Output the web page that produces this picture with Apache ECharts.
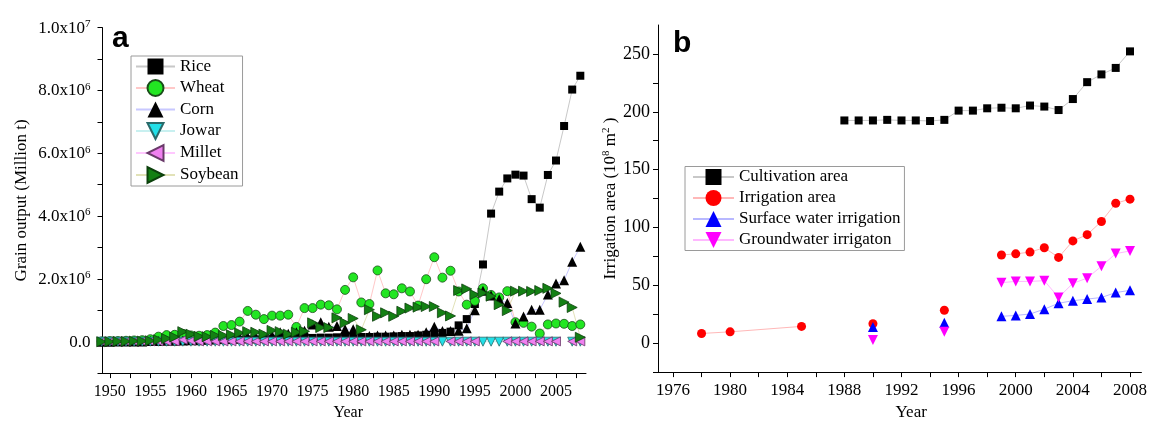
<!DOCTYPE html>
<html><head><meta charset="utf-8">
<script src="https://cdn.jsdelivr.net/npm/echarts@6/dist/echarts.min.js"></script>
<style>html,body{margin:0;padding:0;background:#fff}#c{width:1150px;height:426px}</style>
</head><body><div id="c"></div>
<script>
// ---------- Panel a data (values in 10^6 t) ----------
const grainYears = [1949,1950,1951,1952,1953,1954,1955,1956,1957,1958,
  1959,1960,1961,1962,1963,1964,1965,1966,1967,1968,
  1969,1970,1971,1972,1973,1974,1975,1976,1977,1978,
  1979,1980,1981,1982,1983,1984,1985,1986,1987,1988,
  1989,1990,1991,1992,1993,1994,1995,1996,1997,1998,
  1999,2000,2001,2002,2003,2004,2005,2006,2007,2008];
const rice = [0.01,0.01,0.01,0.01,0.01,0.01,0.02,0.02,0.02,0.02,
  0.03,0.03,0.03,0.04,0.04,0.05,0.05,0.06,0.07,0.07,
  0.08,0.08,0.09,0.10,0.10,0.12,0.12,0.13,0.13,0.14,
  0.14,0.15,0.15,0.15,0.16,0.16,0.17,0.18,0.18,0.20,
  0.22,0.25,0.28,0.32,0.52,0.72,1.20,2.46,4.08,4.78,
  5.20,5.32,5.29,4.54,4.27,5.31,5.77,6.87,8.03,8.47];
const wheat = [0.01,0.02,0.02,0.03,0.04,0.05,0.08,0.16,0.21,0.22,
  0.25,0.20,0.19,0.21,0.29,0.50,0.53,0.64,0.98,0.86,
  0.72,0.83,0.83,0.86,0.47,1.07,1.07,1.18,1.16,1.03,
  1.65,2.05,1.25,1.20,2.27,1.54,1.51,1.70,1.60,1.15,
  1.99,2.69,2.04,2.26,1.60,1.18,1.30,1.70,1.49,1.41,
  1.61,0.62,0.60,0.48,0.26,0.55,0.58,0.57,0.50,0.55];
const corn = [0.00,0.00,0.01,0.01,0.01,0.01,0.02,0.02,0.03,0.03,
  0.04,0.05,0.05,0.06,0.08,0.10,0.12,0.14,0.15,0.15,
  0.18,0.20,0.30,0.25,0.30,0.35,0.55,0.62,0.48,0.50,
  0.40,0.40,0.10,0.18,0.20,0.20,0.20,0.22,0.22,0.22,
  0.30,0.48,0.34,0.34,0.35,0.43,1.00,1.62,1.47,1.35,
  1.23,0.58,0.80,1.02,1.02,1.50,1.85,1.96,2.55,3.02];
const jowar = [0,0,0,0,0,0,0,0,0,0,
  0,0,0,0,0,0,0,0,0,0,
  0,0,0,0,0,0,0,0,0,0,
  0,0,0,0,0,0,0,0,0,0,
  0,0,0,0,0,0,0,0,0,0,
  0,0,0,0,0,0,0,null,0,0];
const millet = [0.01,0.01,0.01,0.01,0.01,0.01,0.01,0.01,0.01,0.01,
  0.06,0.03,0.01,0.01,0.01,0.01,0.01,0.01,0.01,0.01,
  0.01,0.01,0.01,0.01,0.01,0.01,0.01,0.01,0.01,0.01,
  0.01,0.01,0.01,0.01,0.01,0.01,0.01,0.01,0.01,0.01,
  0.01,0.01,null,0.01,0.01,0.01,0.01,null,null,null,
  0.01,0.01,0.01,0.01,0.01,0.01,0.01,null,0.01,0.01];
const soybean = [0.00,0.00,0.01,0.01,0.02,0.02,0.03,0.06,0.10,0.15,
  0.32,0.24,0.17,0.16,0.20,0.20,0.22,0.28,0.32,0.30,
  0.24,0.36,0.32,0.24,0.30,0.33,0.60,0.45,0.45,0.76,
  0.60,0.74,0.38,1.02,0.81,0.92,0.81,0.97,1.07,1.10,
  1.12,1.12,0.92,0.82,1.63,1.68,1.50,1.55,1.45,1.18,
  0.99,1.61,1.61,1.60,1.63,1.70,1.54,1.26,1.09,0.14];

// ---------- Panel b data (10^8 m^2); null = line break ----------
const cultYears = [1988,1989,1990,1991,1992,1993,1994,1995,1996,1997,1998,1999,2000,2001,2002,2003,2004,2005,2006,2007,2008];
const cultArea = [192.5,192.5,192.5,193,192.5,192.5,192,193,201,201,203,203.5,203,205.4,204.5,201.5,211,225.6,232.3,237.9,252.2];
const irrYears = [1978,1980,1985,1987,1990,1992,1995,1997,1999,2000,2001,2002,2003,2004,2005,2006,2007,2008];
const irrArea = [8.4,9.8,14.5,null,16.8,null,28.5,null,76.2,77.2,78.7,82.5,74.1,88.4,93.8,105.2,120.9,124.5];
const subYears = [1990,1992,1995,1997,1999,2000,2001,2002,2003,2004,2005,2006,2007,2008];
const surfArea = [14,null,17.6,null,23.2,24,25.2,29.4,34.5,36.7,38.1,39.5,43.7,45.7];
const gwArea = [2.8,null,9.8,null,52.3,53.4,53.4,54,39.5,51.7,56.2,66.5,77.4,79.7];

// ---------- tick labels / tick positions ----------
const aLabelX = [1950,1955,1960,1965,1970,1975,1980,1985,1990,1995,2000,2005];
const aTickX = [1950,1952.5,1955,1957.5,1960,1962.5,1965,1967.5,1970,1972.5,1975,1977.5,1980,1982.5,1985,1987.5,1990,1992.5,1995,1997.5,2000,2002.5,2005,2007.5];
const aLabelY = [0,2,4,6,8,10];
const aTickY = [-1,0,1,2,3,4,5,6,7,8,9,10];
const bLabelX = [1976,1980,1984,1988,1992,1996,2000,2004,2008];
const bTickX = [1976,1978,1980,1982,1984,1986,1988,1990,1992,1994,1996,1998,2000,2002,2004,2006,2008];
const bLabelY = [0,50,100,150,200,250];
const bTickY = [-25,0,25,50,75,100,125,150,175,200,225,250];

const SERIF = 'Liberation Serif';
const DOWN = 'path://M0,0L10,0L5,9Z';
const LEFT = 'path://M10,0L10,10L0,5Z';
const RIGHT = 'path://M0,0L0,10L10,5Z';

function pairs(xs, ys) { return xs.map((x, i) => [x, ys[i]]); }
function ser(name, xs, ys, idx, symbol, size, fill, line, border) {
  return {
    name, type: 'line', xAxisIndex: idx, yAxisIndex: idx,
    data: pairs(xs, ys), symbol, symbolSize: size, showSymbol: true, showAllSymbol: true,
    clip: false, connectNulls: false,
    lineStyle: { width: 1, color: line },
    itemStyle: { color: fill, borderColor: border || fill, borderWidth: border ? 0.8 : 0, opacity: 1 },
    emphasis: { disabled: true }, animation: false
  };
}

const aMin = 1949.1, aMax = 2008.7, bMin = 1974.95, bMax = 2008.8;
const axisLineBlack = { show: true, onZero: false, lineStyle: { color: '#000', width: 1 } };
const tickStyle = { color: '#000', width: 1 };
const supRich = {
  b: { fontFamily: SERIF, fontSize: 17, lineHeight: 18, verticalAlign: 'bottom', color: '#000' },
  s: { fontFamily: SERIF, fontSize: 11, lineHeight: 10, verticalAlign: 'top', color: '#000' }
};

const option = {
  animation: false,
  backgroundColor: '#fff',
  grid: [
    { left: 102.5, top: 27.7, width: 483.5, height: 352.3 },
    { left: 658, top: 25, width: 485, height: 355 }
  ],
  xAxis: [
    { gridIndex: 0, type: 'value', min: aMin, max: aMax, position: 'bottom',
      axisLine: axisLineBlack,
      axisTick: { customValues: aTickX, length: 5, lineStyle: tickStyle },
      axisLabel: { customValues: aLabelX, color: '#000', fontFamily: SERIF, fontSize: 16, margin: 11, formatter: v => String(v) },
      splitLine: { show: false },
      name: 'Year', nameLocation: 'middle', nameGap: 30,
      nameTextStyle: { color: '#000', fontFamily: SERIF, fontSize: 16, padding: [0, 0, 0, 8] } },
    { gridIndex: 1, type: 'value', min: bMin, max: bMax, position: 'bottom',
      axisLine: axisLineBlack,
      axisTick: { customValues: bTickX, length: 5, lineStyle: tickStyle },
      axisLabel: { customValues: bLabelX, color: '#000', fontFamily: SERIF, fontSize: 17, margin: 10, formatter: v => String(v) },
      splitLine: { show: false },
      name: 'Year', nameLocation: 'middle', nameGap: 26,
      nameTextStyle: { color: '#000', fontFamily: SERIF, fontSize: 17, padding: [0, 0, 0, 23] } }
  ],
  yAxis: [
    { gridIndex: 0, type: 'value', min: -1, max: 10, position: 'left',
      axisLine: axisLineBlack,
      axisTick: { show: true, customValues: aTickY, length: 5, lineStyle: tickStyle },
      axisLabel: { customValues: aLabelY, color: '#000', margin: 12,
        formatter: v => v === 0 ? '{b|0.0}' : (v === 10 ? '{b|1.0x10}{s|7}' : '{b|' + v.toFixed(1) + 'x10}{s|6}'),
        rich: supRich },
      splitLine: { show: false },
      name: 'Grain output (Million t)', nameLocation: 'middle', nameGap: 72, nameRotate: 90,
      nameTextStyle: { color: '#000', fontFamily: SERIF, fontSize: 17 } },
    { gridIndex: 1, type: 'value', min: -25, max: 275, position: 'left',
      axisLine: axisLineBlack,
      axisTick: { show: true, customValues: bTickY, length: 5, lineStyle: tickStyle },
      axisLabel: { customValues: bLabelY, color: '#000', fontFamily: SERIF, fontSize: 18, margin: 8 },
      splitLine: { show: false },
      name: '{b|Irrigation area (10}{s|8}{b| m}{s|2}{b| )}', nameLocation: 'middle', nameGap: 36, nameRotate: 90,
      nameTextStyle: { color: '#000', fontFamily: SERIF, fontSize: 17, rich: supRich } }
  ],
  legend: [
    { orient: 'vertical', left: 131, top: 56, padding: [2, 4, 2, 4],
      itemWidth: 39, itemHeight: 20, itemGap: 4,
      borderColor: '#9a9a9a', borderWidth: 1, backgroundColor: '#fff',
      textStyle: { fontFamily: SERIF, fontSize: 17, color: '#000' },
      data: ['Rice', 'Wheat', 'Corn', 'Jowar', 'Millet', 'Soybean'] },
    { orient: 'vertical', left: 685, top: 166.5, padding: [2, 4, 2, 7],
      itemWidth: 41, itemHeight: 20, itemGap: 4,
      borderColor: '#9a9a9a', borderWidth: 1, backgroundColor: '#fff',
      textStyle: { fontFamily: SERIF, fontSize: 17, color: '#000' },
      data: ['Cultivation area', 'Irrigation area', 'Surface water irrigation', 'Groundwater irrigaton'] }
  ],
  graphic: [
    { type: 'text', left: 112, top: 24, style: { text: 'a', font: 'bold 30px "Liberation Sans"', fill: '#000' } },
    { type: 'text', left: 673, top: 29, style: { text: 'b', font: 'bold 30px "Liberation Sans"', fill: '#000' } }
  ],
  series: [
    ser('Rice', grainYears, rice, 0, 'rect', 8, '#000', '#c8c8c8'),
    ser('Wheat', grainYears, wheat, 0, 'circle', 9, '#22e622', '#ffc8c8', '#1a4d1a'),
    ser('Corn', grainYears, corn, 0, 'triangle', 10, '#000', '#c8c8ff'),
    ser('Jowar', grainYears, jowar, 0, DOWN, 9, '#22e0e8', '#c8f0f0', '#2a6a6a'),
    ser('Millet', grainYears, millet, 0, LEFT, 9, '#f080f0', '#ffc8ff', '#6a3a6a'),
    ser('Soybean', grainYears, soybean, 0, RIGHT, 10, '#138013', '#e2e2b8', '#0c400c'),
    ser('Cultivation area', cultYears, cultArea, 1, 'rect', 8, '#000', '#c8c8c8'),
    ser('Irrigation area', irrYears, irrArea, 1, 'circle', 9, '#ff0000', '#ffb8b8'),
    ser('Surface water irrigation', subYears, surfArea, 1, 'triangle', 10, '#0000ff', '#b8b8ff'),
    ser('Groundwater irrigaton', subYears, gwArea, 1, DOWN, 10, '#ff00ff', '#ffb8ff')
  ]
};
const chart = echarts.init(document.getElementById('c'), null, { renderer: 'canvas' });
chart.setOption(option);
</script></body></html>
